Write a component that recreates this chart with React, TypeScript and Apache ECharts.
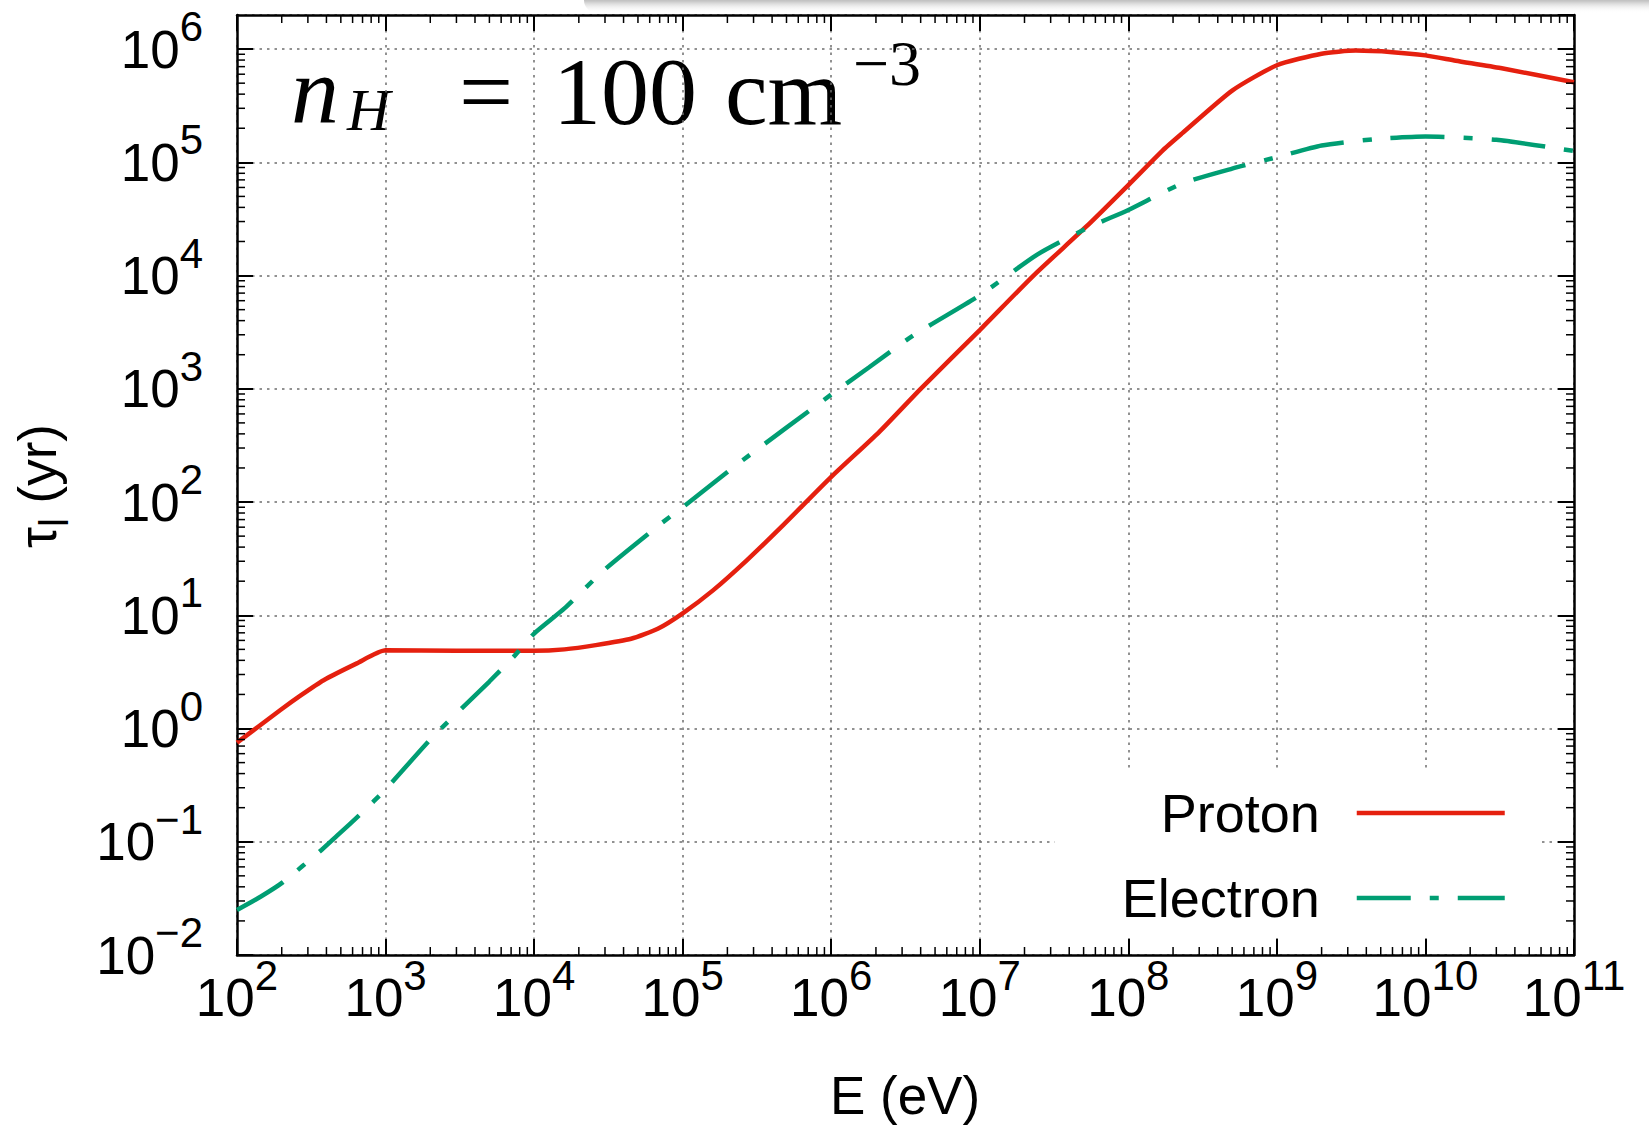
import React, { useEffect, useRef } from "react";
import * as echarts from "echarts";

// ---- data (E in eV, tau in yr) ----
const protonE = [100, 195, 270, 383, 641, 1000, 3000, 1e4, 1.6e4, 2.6e4, 4.5e4, 6.8e4, 1e5, 1.6e5, 2.7e5, 4.6e5, 1e6, 2.1e6, 4e6, 1e7, 2.3e7, 5.2e7, 1e8, 1.7e8, 2.3e8, 5e8, 1e9, 2e9, 3.4e9, 6e9, 1e10, 1.6e10, 3.2e10, 1e11];
const protonTau = [0.75, 1.45, 1.97, 2.67, 3.76, 4.9, 4.85, 4.85, 5.0, 5.45, 6.2, 7.6, 10.4, 16.6, 30.6, 60, 167, 415, 1000, 3300, 1.0e4, 2.7e4, 6.3e4, 1.27e5, 1.8e5, 4.3e5, 7.2e5, 9.1e5, 9.7e5, 9.4e5, 8.8e5, 7.9e5, 6.8e5, 5.1e5];

const electronE = [100, 144, 204, 372, 468, 692, 1000, 2090, 5000, 7400, 1e4, 1.6e4, 2.95e4, 7.1e4, 1e5, 2.45e5, 1e6, 1.8e6, 3.55e6, 1e7, 2.45e7, 5.2e7, 1e8, 2.3e8, 5e8, 1e9, 2e9, 4.5e9, 1e10, 3e10, 1e11];
const electronTau = [0.025, 0.0327, 0.044, 0.085, 0.112, 0.18, 0.29, 0.85, 2.6, 4.4, 6.9, 11.5, 25, 64, 90, 226, 890, 1550, 2950, 6700, 1.54e4, 2.6e4, 3.8e4, 6.5e4, 8.8e4, 1.11e5, 1.41e5, 1.6e5, 1.69e5, 1.58e5, 1.26e5];

const seriesNames = ["Proton", "Electron"];
const xRange = [100, 1e11];
const yRange = [0.01, 2e6];
const xDecades = [100, 1e3, 1e4, 1e5, 1e6, 1e7, 1e8, 1e9, 1e10];
const yDecades = [0.01, 0.1, 1, 10, 100, 1e3, 1e4, 1e5, 1e6];
const minorMultipliers = [2, 3, 4, 5, 6, 7, 8, 9];

const SANS = "Liberation Sans, Arial, Helvetica, sans-serif";
const SERIF = "Liberation Serif, Times New Roman, serif";
const RED = "#e5200f";
const GREEN = "#009e73";
const LINE_W = 4.5;
const DASHDOT = [54, 19, 9, 19];

const expLabel = (v: number) => {
  const e = Math.log10(v);
  const r = Math.round(e);
  if (Math.abs(e - r) > 1e-6) return "";
  const s = r < 0 ? "\u2212" + -r : String(r);
  return `{b|10}{s|${s}}`;
};

const labelRich = {
  b: { fontSize: 53, lineHeight: 53, fontFamily: SANS, color: "#000", verticalAlign: "bottom" },
  s: { fontSize: 42, lineHeight: 42, fontFamily: SANS, color: "#000", verticalAlign: "bottom", padding: [0, 0, 28, 0] },
};

export default function App() {
  const ref = useRef<HTMLDivElement>(null);
  useEffect(() => {
    if (!ref.current) return;
    const chart = echarts.init(ref.current, null, { renderer: "svg" });

    const minorX: number[][] = [];
    xDecades.forEach((d) => minorMultipliers.forEach((m) => minorX.push([d * m, 1])));
    const minorY: number[][] = [];
    yDecades.forEach((d) =>
      minorMultipliers.forEach((m) => {
        if (d * m < yRange[1]) minorY.push([1000, d * m]);
      })
    );

    const tickStyle = { color: "#000", width: 2 };
    const gridLine = { show: true, lineStyle: { color: "#6e6e6e", width: 1.5, type: [2.5, 5] } };

    const option: any = {
      animation: false,
      backgroundColor: "#fff",
      grid: { left: 237, right: 75, top: 15, bottom: 170, containLabel: false },
      xAxis: [
        {
          type: "log",
          logBase: 10,
          min: xRange[0],
          max: xRange[1],
          splitNumber: 9,
          axisLine: { show: true, onZero: false, lineStyle: { color: "#000", width: 2.5 } },
          axisTick: { show: true, inside: true, length: 16, lineStyle: tickStyle },
          minorTick: { show: false },
          splitLine: gridLine,
          axisLabel: { margin: 16, formatter: expLabel, rich: labelRich, showMinLabel: true, showMaxLabel: true },
        },
        {
          type: "log",
          logBase: 10,
          position: "top",
          min: xRange[0],
          max: xRange[1],
          splitNumber: 9,
          axisLine: { show: true, onZero: false, lineStyle: { color: "#000", width: 2.5 } },
          axisTick: { show: true, inside: true, length: 16, lineStyle: tickStyle },
          splitLine: { show: false },
          axisLabel: { show: false },
        },
      ],
      yAxis: [
        {
          type: "log",
          logBase: 10,
          min: yRange[0],
          max: yRange[1],
          splitNumber: 8,
          axisLine: { show: true, onZero: false, lineStyle: { color: "#000", width: 2.5 } },
          axisTick: { show: true, inside: true, length: 16, lineStyle: tickStyle },
          splitLine: gridLine,
          axisLabel: { margin: 34, formatter: expLabel, rich: labelRich, showMaxLabel: false },
        },
        {
          type: "log",
          logBase: 10,
          position: "right",
          min: yRange[0],
          max: yRange[1],
          splitNumber: 8,
          axisLine: { show: true, onZero: false, lineStyle: { color: "#000", width: 2.5 } },
          axisTick: { show: true, inside: true, length: 16, lineStyle: tickStyle },
          splitLine: { show: false },
          axisLabel: { show: false },
        },
      ],
      legend: {
        data: [
          { name: seriesNames[0], itemStyle: { opacity: 0 }, lineStyle: { color: RED, width: LINE_W, type: "solid" } },
          { name: seriesNames[1], itemStyle: { opacity: 0 }, lineStyle: { color: GREEN, width: LINE_W, type: DASHDOT } },
        ],
        orient: "vertical",
        right: 109,
        top: 772,
        align: "right",
        itemWidth: 148,
        itemHeight: 54,
        itemGap: 31,
        padding: [14, 33, 13, 67],
        backgroundColor: "#fff",
        selectedMode: false,
        itemStyle: { opacity: 0 },
        textStyle: { fontSize: 54, fontFamily: SANS, color: "#000", padding: [0, 32, 0, 0] },
      },
      series: [
        {
          name: seriesNames[0],
          type: "line",
          xAxisIndex: 0,
          yAxisIndex: 0,
          data: protonE.map((e, i) => [e, protonTau[i]]),
          showSymbol: false,
          symbol: "none",
          smooth: 0.2,
          lineStyle: { color: RED, width: LINE_W },
          itemStyle: { color: RED },
          z: 3,
        },
        {
          name: seriesNames[1],
          type: "line",
          xAxisIndex: 0,
          yAxisIndex: 0,
          data: electronE.map((e, i) => [e, electronTau[i]]),
          showSymbol: false,
          symbol: "none",
          smooth: 0.2,
          lineStyle: { color: GREEN, width: LINE_W, type: DASHDOT, cap: "butt" },
          itemStyle: { color: GREEN },
          z: 4,
        },
        {
          type: "custom",
          xAxisIndex: 0,
          yAxisIndex: 0,
          silent: true,
          clip: false,
          data: minorX,
          z: 5,
          renderItem: (params: any, api: any) => {
            const cs = params.coordSys;
            const x = api.coord([api.value(0), 1])[0];
            const st = { stroke: "#000", lineWidth: 1.5 };
            return {
              type: "group",
              children: [
                { type: "line", shape: { x1: x, y1: cs.y + cs.height, x2: x, y2: cs.y + cs.height - 8 }, style: st },
                { type: "line", shape: { x1: x, y1: cs.y, x2: x, y2: cs.y + 8 }, style: st },
              ],
            };
          },
        },
        {
          type: "custom",
          xAxisIndex: 0,
          yAxisIndex: 0,
          silent: true,
          clip: false,
          data: minorY,
          z: 5,
          renderItem: (params: any, api: any) => {
            const cs = params.coordSys;
            const y = api.coord([1000, api.value(1)])[1];
            const st = { stroke: "#000", lineWidth: 1.5 };
            return {
              type: "group",
              children: [
                { type: "line", shape: { x1: cs.x, y1: y, x2: cs.x + 8, y2: y }, style: st },
                { type: "line", shape: { x1: cs.x + cs.width, y1: y, x2: cs.x + cs.width - 8, y2: y }, style: st },
              ],
            };
          },
        },
      ],
      graphic: [
        {
          type: "rect",
          shape: { x: 584, y: -14, width: 1100, height: 27, r: 13 },
          style: {
            fill: new echarts.graphic.LinearGradient(0, 0, 0, 1, [
              { offset: 0, color: "#9a9a9a" },
              { offset: 0.55, color: "#c4c4c4" },
              { offset: 1, color: "rgba(255,255,255,0)" },
            ]),
          },
          silent: true,
        },
        { type: "text", x: 291, y: 90, style: { text: "n", font: `italic 96px ${SERIF}`, fill: "#000", align: "left", verticalAlign: "middle" } },
        { type: "text", x: 347, y: 110, style: { text: "H", font: `italic 60px ${SERIF}`, fill: "#000", align: "left", verticalAlign: "middle" } },
        { type: "text", x: 486, y: 91, style: { text: "=", font: `96px ${SERIF}`, fill: "#000", align: "center", verticalAlign: "middle" } },
        { type: "text", x: 553, y: 91, style: { text: "100", font: `96px ${SERIF}`, fill: "#000", align: "left", verticalAlign: "middle" } },
        { type: "text", x: 725, y: 91, style: { text: "cm", font: `96px ${SERIF}`, fill: "#000", align: "left", verticalAlign: "middle" } },
        { type: "text", x: 853, y: 63, style: { text: "\u22123", font: `64px ${SERIF}`, fill: "#000", align: "left", verticalAlign: "middle" } },
        {
          type: "text",
          x: 905,
          y: 1095,
          style: { text: "E (eV)", font: `53px ${SANS}`, fill: "#000", align: "center", verticalAlign: "middle" },
        },
        {
          type: "text",
          x: 47,
          y: 486,
          rotation: Math.PI / 2,
          style: {
            text: "{a|\u03c4}{b|l}{a| (yr)}",
            align: "center",
            verticalAlign: "middle",
            rich: {
              a: { fontSize: 53, lineHeight: 53, fontFamily: SANS, fill: "#000", verticalAlign: "bottom", padding: [0, 0, 10, 0] },
              b: { fontSize: 40, lineHeight: 40, fontFamily: SANS, fill: "#000", verticalAlign: "bottom" },
            },
          },
        },
      ],
    };

    chart.setOption(option);
    return () => chart.dispose();
  }, []);

  return (
    <div
      ref={ref}
      style={{ position: "fixed", left: 0, top: 0, width: 1649, height: 1125, background: "#fff" }}
    />
  );
}
